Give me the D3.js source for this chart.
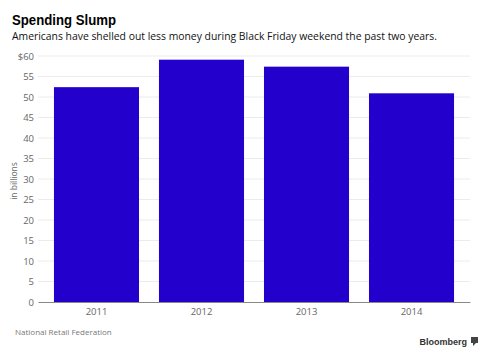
<!DOCTYPE html>
<html><head><meta charset="utf-8">
<script src="https://cdn.jsdelivr.net/npm/d3@7"></script>
<style>body{margin:0;background:#fff;}svg{display:block;font-family:"Open Sans","Liberation Sans",Arial,sans-serif;}</style>
</head><body><svg id="c" width="488" height="356"></svg>
<script>
const years = ["2011","2012","2013","2014"];
const spending = [52.4, 59.1, 57.4, 50.9];
const yTicks = [0,5,10,15,20,25,30,35,40,45,50,55,60];

(function(){
const svg = d3.select("#c");
const pL = 38, pR = 470, pT = 56, pB = 302;
const x = d3.scaleBand().domain(years).range([pL, pR]).paddingInner(0.19).paddingOuter(0.152);
const y = d3.scaleLinear().domain([0, 60]).range([pB, pT]);

svg.append("text").attr("x", 12).attr("y", 25).attr("font-family","Liberation Sans, Arial, sans-serif")
  .attr("font-weight","bold").attr("font-size",14.5).attr("fill","#000")
  .attr("textLength",104).attr("lengthAdjust","spacingAndGlyphs").text("Spending Slump");
svg.append("text").attr("x", 12).attr("y", 40).attr("font-size",11.5).attr("fill","#111")
  .attr("textLength",425).attr("lengthAdjust","spacingAndGlyphs")
  .text("Americans have shelled out less money during Black Friday weekend the past two years.");

const g = svg.append("g");
g.selectAll("line.grid").data(yTicks.filter(d=>d>0)).join("line").attr("class","grid")
  .attr("x1", pL).attr("x2", pR).attr("y1", d=>y(d)).attr("y2", d=>y(d))
  .attr("stroke","#ececec").attr("stroke-width",1);

g.selectAll("rect.bar").data(spending).join("rect").attr("class","bar")
  .attr("x",(d,i)=>x(years[i])).attr("width",x.bandwidth())
  .attr("y",d=>y(d)).attr("height",d=>pB-y(d))
  .attr("fill","#2300cc");

const yAxis = d3.axisLeft(y).tickValues(yTicks).tickSize(0).tickPadding(4)
  .tickFormat(d => d===60 ? "$60" : d);
const ya = svg.append("g").attr("transform",`translate(${pL},0)`).call(yAxis);
ya.select(".domain").remove();
ya.selectAll("text").attr("font-size",9.5).attr("fill","#666").attr("font-family","Open Sans, sans-serif");

const xAxis = d3.axisBottom(x).tickSize(0).tickPadding(6);
const xa = svg.append("g").attr("transform",`translate(0,${pB})`).call(xAxis);
xa.select(".domain").attr("stroke","#888");
xa.selectAll("text").attr("font-size",9.5).attr("fill","#666").attr("font-family","Open Sans, sans-serif");

svg.append("text").attr("transform","translate(17,181) rotate(-90)").attr("text-anchor","middle")
  .attr("font-size",8.5).attr("fill","#666").text("in billions");

svg.append("text").attr("x",15).attr("y",335).attr("font-size",8).attr("fill","#777")
  .text("National Retail Federation");
svg.append("text").attr("x",467).attr("y",345).attr("text-anchor","end").attr("font-family","Liberation Sans, Arial, sans-serif")
  .attr("font-weight","bold").attr("font-size",9).attr("fill","#333").text("Bloomberg");
svg.append("rect").attr("x",471).attr("y",337).attr("width",7).attr("height",6).attr("fill","#444");
svg.append("path").attr("d","M473,343 L473,346 L476,343 Z").attr("fill","#444");
})();
</script></body></html>
